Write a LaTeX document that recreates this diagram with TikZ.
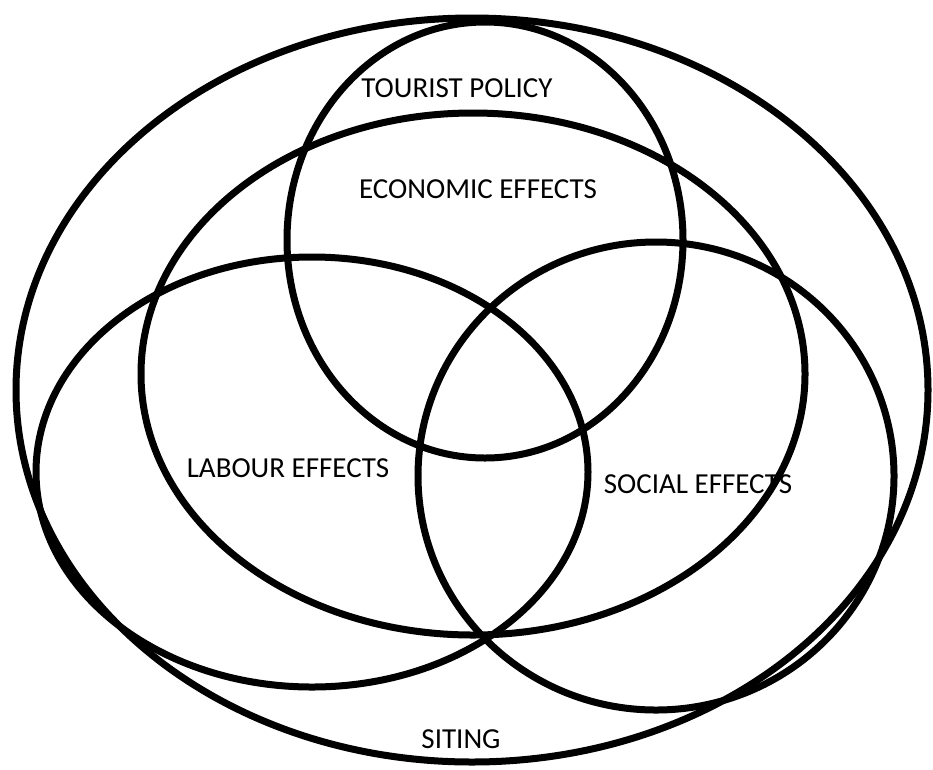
\documentclass[tikz,border=0pt]{standalone}
\usepackage{fontspec}
\setmainfont{Carlito}
\usepackage{tikz}

\begin{document}
\begin{tikzpicture}
		[x=1pt,y=-1pt,line cap=round,
		%Styles
		set line/.style={line width=7pt,black},
		set label/.style={font=\fontsize{29}{30}\selectfont,inner sep=0pt,text=black}
		]
		
		\useasboundingbox (0,0) rectangle (933,769);
		
		%The sets
		\draw[set line] (472,390) ellipse [x radius=456,y radius=372];	%siting
		\draw[set line] (485,240) ellipse [x radius=198,y radius=218];	%tourist policy
		\draw[set line] (473,374) ellipse [x radius=332,y radius=261];	%economic
		\draw[set line] (312,472) ellipse [x radius=276,y radius=215];	%labour
		\draw[set line] (656,476) ellipse [x radius=238,y radius=234];	%social
		
		%The labels
		\node[set label] (tourist) at (457,88) {TOURIST POLICY};
		\node[set label] (economic) at (478,189) {ECONOMIC EFFECTS};
		\node[set label] (labour) at (288,468) {LABOUR EFFECTS};
		\node[set label] (social) at (698,484) {SOCIAL EFFECTS};
		\node[set label] (siting) at (461,739) {SITING};
	\end{tikzpicture}
\end{document}
